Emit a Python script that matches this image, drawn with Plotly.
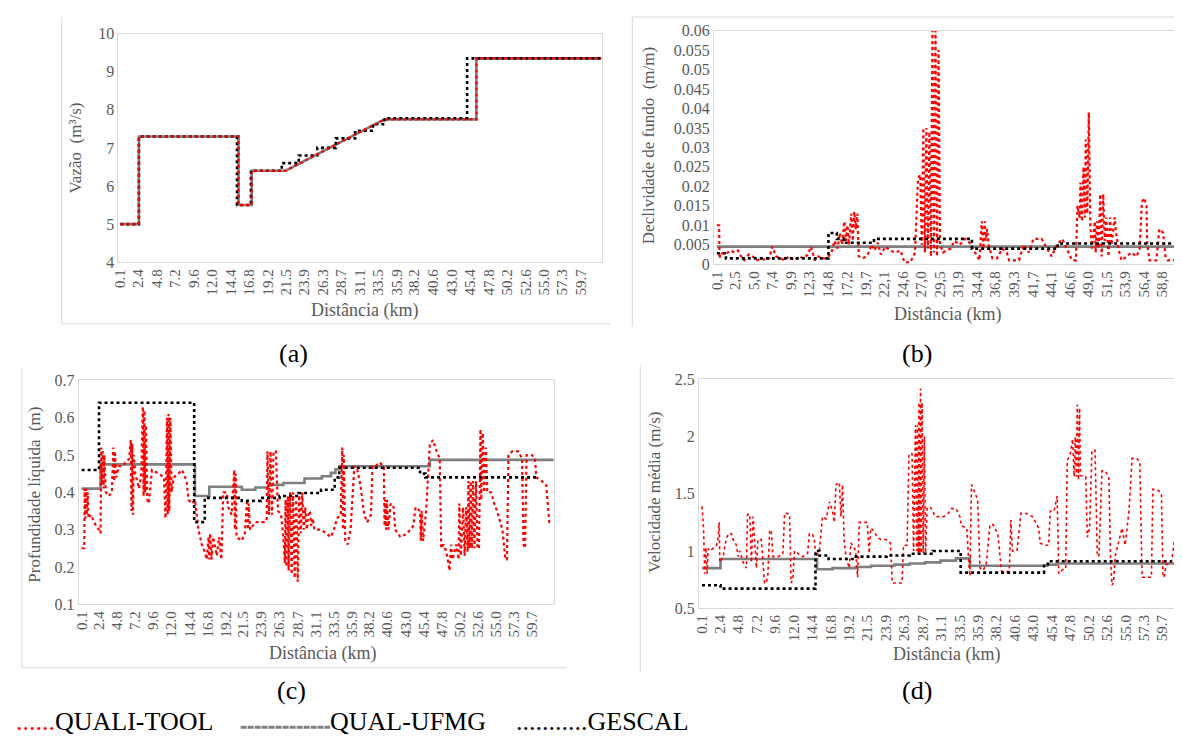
import plotly.graph_objects as go

W, H = 1182, 741

# ---------------- x tick labels ----------------
ticks_acd = [0.1, 2.4, 4.8, 7.2, 9.6, 12.0, 14.4, 16.8, 19.2, 21.5, 23.9, 26.3, 28.7,
             31.1, 33.5, 35.9, 38.2, 40.6, 43.0, 45.4, 47.8, 50.2, 52.6, 55.0, 57.3, 59.7]
ticks_b = [0.1, 2.5, 5.0, 7.4, 9.9, 12.3, 14.8, 17.2, 19.7, 22.1, 24.6, 27.0, 29.5,
           31.9, 34.4, 36.8, 39.3, 41.7, 44.1, 46.6, 49.0, 51.5, 53.9, 56.4, 58.8]

# ---------------- (a) Vazão (m3/s) ----------------
a_km = [0.1, 2.5, 2.5, 15.4, 15.4, 17.1, 17.1, 21.5, 34.3, 46.2, 46.2, 62.4]
a_vazao = [5.0, 5.0, 7.3, 7.3, 5.5, 5.5, 6.4, 6.4, 7.75, 7.75, 9.35, 9.35]
a_gescal_km = [0.1, 2.5, 15.2, 17.0, 21.0, 23.2, 25.6, 28.0, 30.5, 32.8, 34.3, 45.0, 62.4]
a_gescal = [5.0, 7.3, 5.5, 6.4, 6.6, 6.8, 7.0, 7.25, 7.45, 7.62, 7.78, 9.35, 9.35]

# ---------------- (b) Declividade de fundo (m/m) ----------------
b_quali_km = [0.1, 0.4, 0.45, 0.6, 1.2, 1.9, 2.4, 2.9, 3.3, 3.7, 4.3, 4.8, 5.4, 6.0, 6.5, 7.0,
              7.4, 7.9, 8.5, 9.0, 9.6, 10.3, 10.9, 11.5, 12.1, 12.5, 13.0, 13.5, 14.0, 14.6,
              15.2, 15.6, 16.0, 16.3, 16.6, 16.9, 17.1, 17.3, 17.5, 17.8, 18.0, 18.2, 18.4,
              18.6, 18.8, 19.3, 19.8, 20.1, 20.5, 20.9, 21.3, 21.7, 22.3, 22.9, 23.6, 24.3,
              24.8, 25.6, 26.2, 26.6, 26.9, 27.1, 27.3, 27.5, 27.7, 27.9, 28.1, 28.3, 28.5,
              28.7, 28.9, 29.1, 29.3, 29.5, 29.9, 30.3, 30.9, 31.4, 32.1, 32.8, 33.4, 34.1,
              34.7, 35.0, 35.2, 35.4, 35.5, 35.7, 35.9, 36.4, 37.0, 37.7, 38.3, 38.6, 39.9,
              40.5, 41.2, 41.8, 42.9, 43.6, 44.2, 44.9, 45.6, 46.2, 46.9, 47.4, 47.6, 47.9,
              48.0, 48.2, 48.4, 48.6, 48.7, 48.9, 49.1, 49.3, 49.5, 49.9, 50.0, 50.2, 50.4,
              50.6, 50.8, 51.0, 51.2, 51.4, 51.7, 51.9, 52.1, 52.5, 52.7, 53.0, 53.4, 54.1,
              54.7, 55.4, 55.8, 56.1, 56.4, 56.7, 56.8, 57.1, 58.0, 58.4, 58.9, 59.2, 59.5,
              60.4, 61.3, 61.9, 62.3]
b_quali = [0.010, 0.010, 0.0015, 0.003, 0.0025, 0.0035, 0.003, 0.0035, 0.002, 0.001, 0.0025,
           0.002, 0.001, 0.0015, 0.001, 0.0015, 0.0045, 0.002, 0.0015, 0.001, 0.002, 0.001,
           0.002, 0.0015, 0.0025, 0.0045, 0.001, 0.002, 0.0015, 0.0015,
           0.003, 0.006, 0.004, 0.008, 0.005, 0.011, 0.006, 0.010, 0.005, 0.013, 0.006, 0.0135,
           0.009, 0.013, 0.002, 0.0015, 0.002, 0.003, 0.005, 0.0035, 0.0055, 0.0025, 0.0045,
           0.0035, 0.003, 0.0035, 0.0005, 0.0005, 0.003, 0.022, 0.023, 0.005, 0.035, 0.003,
           0.035, 0.004, 0.034, 0.002, 0.060, 0.003, 0.060, 0.002, 0.055, 0.005, 0.003, 0.0035,
           0.004, 0.006, 0.005, 0.0065, 0.0055, 0.003, 0.001, 0.011, 0.004, 0.011, 0.006, 0.009,
           0.005, 0.0015, 0.0015, 0.004, 0.003, 0.001, 0.001, 0.005, 0.003, 0.0065, 0.0065,
           0.004, 0.002, 0.005, 0.0065, 0.004, 0.001, 0.001, 0.015, 0.012, 0.021, 0.011, 0.025,
           0.012, 0.032, 0.013, 0.039, 0.010, 0.004, 0.011, 0.003, 0.011, 0.004, 0.018, 0.002,
           0.018, 0.006, 0.012, 0.002, 0.012, 0.005, 0.012, 0.008, 0.004, 0.001, 0.002, 0.003,
           0.002, 0.004, 0.016, 0.017, 0.015, 0.005, 0.001, 0.001, 0.009, 0.008, 0.002, 0.001,
           0.001, 0.0015, 0.004, 0.004]
b_ufmg_km = [0.1, 62.3]
b_ufmg = [0.0045, 0.0045]
b_gescal_km = [0.1, 1.3, 14.8, 15.9, 16.8, 20.8, 33.7, 45.0, 62.3]
b_gescal = [0.0028, 0.0015, 0.008, 0.0065, 0.0055, 0.0065, 0.004, 0.0053, 0.0053]

# ---------------- (c) Profundidade líquida (m) ----------------
c_quali_km = [0.1, 0.45, 0.5, 0.6, 0.7, 0.8, 0.9, 1.0, 1.3, 1.7, 2.0, 2.4, 2.6, 2.7, 2.8, 2.9,
              3.0, 3.1, 3.3, 3.7, 4.1, 4.3, 4.4, 4.5, 4.7, 5.0, 5.5, 5.9, 6.4, 6.6, 6.7, 6.8,
              6.9, 7.0, 7.2, 7.7, 8.0, 8.2, 8.3, 8.4, 8.5, 8.6, 8.8, 9.0, 9.4, 10.3, 11.0, 11.2,
              11.4, 11.5, 11.6, 11.7, 11.85, 12.0, 12.3, 12.9, 13.4, 14.0, 14.25, 14.7, 15.1,
              15.56, 16.0, 16.4, 16.66, 16.9, 17.0, 17.1, 17.3, 17.5, 18.0, 18.3, 18.6, 18.85,
              19.3, 19.5, 19.95, 20.3, 20.4, 20.5, 20.6, 21.3, 21.7, 22.0, 22.1, 22.2, 22.4,
              23.1, 23.5, 24.4, 24.6, 24.7, 24.9, 25.1, 25.3, 25.5, 25.8, 26.1, 26.5, 26.8,
              27.0, 27.1, 27.2, 27.4, 27.5, 27.7, 27.9, 28.1, 28.3, 28.5, 28.7, 28.9, 29.1,
              29.3, 29.5, 29.7, 29.9, 30.1, 30.3, 30.5, 30.7, 30.9, 31.8, 32.4, 33.1, 33.5,
              33.9, 34.4, 34.6, 34.7, 34.8, 35.0, 35.3, 35.7, 36.2, 36.6, 37.0, 37.5, 37.9,
              38.4, 38.6, 39.0, 39.5, 40.1, 40.2, 40.3, 40.4, 40.5, 40.7, 41.0, 41.4, 41.6,
              42.3, 43.2, 44.0, 44.3, 44.9, 45.0, 45.1, 45.3, 45.7, 46.2, 46.6, 47.1, 47.5,
              47.7, 48.0, 48.4, 48.6, 48.8, 49.0, 49.2, 49.7, 50.0, 50.1, 50.3, 50.6, 50.8,
              51.0, 51.2, 51.3, 51.45, 51.6, 51.75, 51.9, 52.1, 52.3, 52.5, 52.7, 52.9, 53.0,
              53.2, 53.4, 53.6, 53.8, 54.3, 54.7, 55.1, 55.8, 56.2, 56.4, 56.6, 57.1, 57.9,
              58.4, 58.6, 58.8, 59.0, 59.2, 59.7, 60.1, 60.3, 61.0, 61.6, 62.0, 62.5]
c_quali = [0.25, 0.25, 0.41, 0.33, 0.41, 0.34, 0.40, 0.33, 0.34, 0.32, 0.31, 0.30, 0.29, 0.52,
           0.42, 0.51, 0.41, 0.50, 0.40, 0.39, 0.40, 0.52, 0.43, 0.51, 0.44, 0.47, 0.47, 0.48,
           0.49, 0.54, 0.35, 0.53, 0.34, 0.50, 0.45, 0.41, 0.45, 0.63, 0.39, 0.62, 0.40, 0.58,
           0.38, 0.37, 0.46, 0.45, 0.44, 0.33, 0.60, 0.34, 0.61, 0.35, 0.60, 0.40, 0.44, 0.45,
           0.46, 0.43, 0.38, 0.37, 0.38, 0.30, 0.26, 0.24, 0.22, 0.28, 0.22, 0.29, 0.22, 0.28,
           0.23, 0.28, 0.22, 0.40, 0.40, 0.36, 0.34, 0.46, 0.30, 0.45, 0.28, 0.27, 0.29, 0.38,
           0.30, 0.37, 0.30, 0.32, 0.32, 0.32, 0.33, 0.51, 0.34, 0.51, 0.34, 0.51, 0.51, 0.35,
           0.34, 0.28, 0.21, 0.38, 0.20, 0.39, 0.19, 0.40, 0.18, 0.40, 0.17, 0.38, 0.16, 0.40,
           0.29, 0.40, 0.30, 0.36, 0.30, 0.34, 0.35, 0.31, 0.33, 0.30, 0.30, 0.29, 0.28, 0.30,
           0.33, 0.34, 0.52, 0.30, 0.50, 0.27, 0.26, 0.30, 0.47, 0.46, 0.42, 0.34, 0.32, 0.34,
           0.47, 0.47, 0.48, 0.47, 0.31, 0.38, 0.30, 0.38, 0.30, 0.37, 0.36, 0.30, 0.28, 0.29,
           0.31, 0.36, 0.35, 0.27, 0.35, 0.27, 0.35, 0.53, 0.54, 0.51, 0.49, 0.25, 0.26, 0.24,
           0.21, 0.19, 0.26, 0.22, 0.26, 0.22, 0.37, 0.23, 0.36, 0.23, 0.36, 0.24, 0.43, 0.25,
           0.43, 0.25, 0.43, 0.25, 0.43, 0.25, 0.25, 0.57, 0.38, 0.56, 0.40, 0.52, 0.40, 0.40,
           0.37, 0.35, 0.30, 0.22, 0.22, 0.50, 0.51, 0.51, 0.49, 0.26, 0.25, 0.50, 0.50, 0.50,
           0.49, 0.44, 0.43, 0.42, 0.32, 0.32]
c_ufmg_km = [0.1, 2.6, 15.1, 17.0, 21.3, 23.1, 24.8, 26.8, 29.6, 31.9, 33.1, 33.7, 34.2, 46.2, 62.6]
c_ufmg = [0.41, 0.475, 0.39, 0.415, 0.407, 0.413, 0.42, 0.425, 0.437, 0.443, 0.452, 0.462,
          0.47, 0.487, 0.487]
c_gescal_km = [0.1, 2.4, 15.0, 16.4, 21.3, 23.8, 26.3, 28.8, 31.8, 33.6, 34.2, 44.9, 45.6, 60.4]
c_gescal = [0.46, 0.64, 0.32, 0.385, 0.377, 0.385, 0.39, 0.398, 0.407, 0.44, 0.466, 0.45,
            0.44, 0.44]

# ---------------- (d) Velocidade média (m/s) ----------------
d_quali_km = [0.1, 0.3, 0.45, 0.6, 0.75, 0.9, 1.13, 1.56, 1.98, 2.2, 2.33, 2.4, 2.85, 3.06,
              3.49, 3.92, 4.13, 4.56, 4.78, 4.99, 5.42, 5.85, 6.0, 6.28, 6.5, 6.71, 6.92, 7.14,
              7.35, 7.78, 8.0, 8.2, 8.43, 8.64, 8.86, 9.07, 9.29, 9.5, 9.93, 10.57, 10.8, 11.0,
              11.43, 11.64, 11.86, 12.07, 12.71, 13.14, 13.78, 14.0, 14.4, 14.64, 14.86, 15.3,
              15.7, 16.16, 16.4, 16.6, 17.0, 17.24, 17.45, 17.88, 18.1, 18.3, 18.5, 18.74,
              19.17, 19.38, 19.6, 20.0, 20.25, 20.46, 20.9, 21.5, 21.75, 21.96, 22.4, 22.8,
              23.25, 23.9, 24.3, 24.5, 24.75, 25.4, 26.0, 26.2, 26.66, 26.9, 27.3, 27.5, 27.75,
              27.9, 28.0, 28.1, 28.2, 28.3, 28.4, 28.5, 28.6, 28.75, 28.9, 29.05, 29.26, 29.7,
              29.9, 30.33, 30.76, 31.4, 32.0, 32.4, 33.0, 33.5, 33.7, 34.4, 34.6, 34.8, 35.0,
              35.4, 35.8, 36.1, 36.5, 36.9, 37.4, 37.8, 38.4, 38.9, 39.5, 39.9, 40.1, 40.3,
              40.9, 41.4, 42.0, 42.9, 43.3, 43.7, 43.9, 44.4, 45.0, 45.2, 45.7, 46.1, 46.3,
              47.0, 47.2, 47.4, 47.8, 48.1, 48.3, 48.45, 48.6, 48.7, 48.85, 49.0, 49.1, 49.8,
              50.0, 50.3, 50.6, 51.0, 51.3, 51.5, 51.9, 52.3, 52.8, 53.0, 53.2, 53.4, 53.6,
              54.1, 54.5, 54.9, 55.4, 55.8, 56.4, 56.8, 57.1, 57.7, 58.3, 58.5, 59.2, 59.6,
              59.8, 60.0, 60.2, 60.9, 61.5, 61.7]
d_quali = [1.39, 1.2, 0.80, 1.03, 0.80, 1.02, 1.0, 1.03, 1.05, 1.12, 1.25, 0.90, 0.95, 1.05,
           1.15, 1.15, 1.10, 1.05, 0.95, 1.0, 0.90, 0.85, 1.32, 1.32, 0.9, 1.30, 1.10, 0.85,
           1.10, 1.10, 0.90, 0.72, 0.72, 0.80, 1.18, 1.18, 0.95, 0.95, 0.95, 0.97, 1.33, 1.33,
           1.32, 0.72, 0.75, 1.0, 0.97, 0.95, 0.98, 1.15, 1.15, 1.1, 0.95, 1.0, 1.30, 1.28,
           1.35, 1.43, 1.35, 1.25, 1.58, 1.60, 1.3, 1.58, 1.10, 0.95, 0.85, 1.07, 1.05, 1.0,
           0.77, 1.25, 1.25, 1.25, 0.98, 1.20, 1.17, 1.12, 1.10, 1.10, 1.08, 1.07, 0.72, 0.72,
           0.72, 1.05, 1.05, 1.85, 1.85, 1.0, 2.1, 1.0, 2.1, 0.98, 2.3, 0.98, 2.42, 0.98, 2.3,
           0.98, 2.0, 0.98, 1.38, 1.38, 1.35, 1.30, 1.30, 1.30, 1.33, 1.37, 1.37, 1.30, 1.22,
           1.20, 0.95, 0.78, 1.58, 1.52, 1.45, 0.85, 0.83, 0.88, 1.23, 1.23, 1.15, 0.82, 0.82,
           0.82, 1.27, 1.0, 1.0, 1.33, 1.33, 1.30, 1.25, 1.20, 1.07, 1.05, 1.05, 1.35, 1.35,
           1.48, 0.80, 0.85, 0.85, 1.79, 1.85, 1.98, 1.65, 2.0, 1.65, 2.28, 1.62, 2.25, 1.66,
           1.65, 1.12, 1.2, 1.88, 1.88, 0.97, 0.95, 1.70, 1.70, 1.65, 0.95, 0.70, 0.73, 0.95,
           1.08, 1.2, 1.05, 1.35, 1.81, 1.81, 1.78, 0.77, 0.77, 0.77, 1.54, 1.53, 1.50, 0.77,
           0.78, 0.88, 0.90, 1.2, 1.2]
d_ufmg_km = [0.1, 2.5, 15.0, 17.0, 20.0, 22.0, 25.0, 27.0, 29.0, 31.0, 33.0, 34.8, 44.8, 46.0, 62.4]
d_ufmg = [0.85, 0.93, 0.84, 0.85, 0.86, 0.87, 0.88, 0.89, 0.90, 0.915, 0.935, 0.87, 0.88,
          0.89, 0.89]
d_gescal_km = [0.1, 2.5, 14.8, 15.3, 16.5, 19.6, 24.0, 27.0, 30.0, 33.6, 44.4, 44.9, 60.9]
d_gescal = [0.70, 0.67, 1.0, 0.96, 0.93, 0.95, 0.96, 0.975, 1.0, 0.81, 0.87, 0.91, 0.91]

# ---------------- styling ----------------
SERIF = "Liberation Serif"
GRAY_TXT = "#595959"
RED = "#ff0000"
UFMG = "#7f7f7f"


def px_x(p):
    return p / W


def px_y(p):
    return 1 - p / H


fig = go.Figure()

panels = [
    dict(ax="", traces=[(a_km, a_vazao, "ufmg_lin"), (a_gescal_km, a_gescal, "gescal"),
                        (a_km, a_vazao, "quali")],
         xd=(105, 591), yd=(18, 252), xr=[-0.16, 62.4], yr=[4, 10], dt=1, ticks=ticks_acd,
         comma=False, qw=2.2),
    dict(ax="2", traces=[(b_ufmg_km, b_ufmg, "ufmg"), (b_quali_km, b_quali, "quali"),
                         (b_gescal_km, b_gescal, "gescal")],
         xd=(704, 1182), yd=(15, 254), xr=[-0.3, 62.3], yr=[0, 0.06], dt=0.005, ticks=ticks_b,
         comma=True, qw=2.2),
    dict(ax="3", traces=[(c_ufmg_km, c_ufmg, "ufmg"), (c_quali_km, c_quali, "quali"),
                         (c_gescal_km, c_gescal, "gescal")],
         xd=(65, 543), yd=(373, 602), xr=[-0.3, 62.6], yr=[0.1, 0.7], dt=0.1, ticks=ticks_acd,
         comma=False, qw=2.2),
    dict(ax="4", traces=[(d_ufmg_km, d_ufmg, "ufmg"), (d_quali_km, d_quali, "quali"),
                         (d_gescal_km, d_gescal, "gescal")],
         xd=(689, 1176), yd=(372, 606), xr=[-0.3, 62.4], yr=[0.5, 2.5], dt=0.5, ticks=ticks_acd,
         comma=False, qw=1.6),
]

layout_axes = {}
for p in panels:
    xa, ya = "x" + p["ax"], "y" + p["ax"]
    for km, vals, kind in p["traces"]:
        if kind == "quali":
            line = dict(color=RED, width=p["qw"], dash="dot")
            shape = "linear"
        elif kind == "gescal":
            line = dict(color="#000000", width=2.6, dash="dot")
            shape = "hv"
        elif kind == "ufmg_lin":
            line = dict(color=UFMG, width=2.6)
            shape = "linear"
        else:
            line = dict(color=UFMG, width=2.6)
            shape = "hv"
        fig.add_trace(go.Scatter(x=km, y=vals, mode="lines", line=line, line_shape=shape,
                                 xaxis=xa, yaxis=ya, showlegend=False, hoverinfo="skip"))
    if p["comma"]:
        ttext = [f"{v:.1f}".replace(".", ",") for v in p["ticks"]]
    else:
        ttext = [f"{v:.1f}" for v in p["ticks"]]
    layout_axes["xaxis" + p["ax"]] = dict(
        domain=[px_x(p["xd"][0]), px_x(p["xd"][1])], anchor=ya, range=p["xr"],
        tickmode="array", tickvals=p["ticks"], ticktext=ttext, tickangle=-90,
        showgrid=False, zeroline=False, showline=True, linecolor="#d9d9d9", linewidth=1,
        mirror=True, ticks="", tickfont=dict(family=SERIF, size=15, color=GRAY_TXT))
    layout_axes["yaxis" + p["ax"]] = dict(
        domain=[px_y(p["yd"][1]), px_y(p["yd"][0])], anchor=xa, range=p["yr"], dtick=p["dt"],
        tick0=p["yr"][0], showgrid=False, zeroline=False, showline=True, linecolor="#d9d9d9",
        linewidth=1, mirror=True, ticks="", tickfont=dict(family=SERIF, size=16, color=GRAY_TXT))

annotations = []


def ann(text, x, y, size, color=GRAY_TXT, angle=0, xanchor="center"):
    annotations.append(dict(text=text, x=px_x(x), y=px_y(y), xref="paper", yref="paper",
                            showarrow=False, textangle=angle, xanchor=xanchor, yanchor="middle",
                            font=dict(family=SERIF, size=size, color=color)))


# axis titles
ann("Vazão  (m³/s)", 62, 135, 17, angle=-90)
ann("Declividade de fundo  (m/m)", 639, 133, 17, angle=-90)
ann("Profundidade líquida  (m)", 21, 490, 17, angle=-90)
ann("Velocidade média (m/s)", 645, 488, 17, angle=-90)
ann("Distância (km)", 353, 301, 18)
ann("Distância (km)", 939, 306, 18)
ann("Distância (km)", 310, 652, 18)
ann("Distância (km)", 938, 654, 18)

# panel letters
ann("(a)", 281, 345, 26, color="#000000")
ann("(b)", 908, 345, 26, color="#000000")
ann("(c)", 279, 690, 26, color="#000000")
ann("(d)", 908, 690, 26, color="#000000")

# legend
ann('<span style="color:#ff0000">......</span>QUALI-TOOL', 0, 722, 26, color="#000000",
    xanchor="left")
ann("QUAL-UFMG", 316, 722, 26, color="#000000", xanchor="left")
ann("...........GESCAL", 503, 722, 26, color="#000000", xanchor="left")

shapes = []


def hline(x0, x1, y, color="#d9d9d9", width=1, dash=None):
    s = dict(type="line", xref="paper", yref="paper", x0=px_x(x0), x1=px_x(x1),
             y0=px_y(y), y1=px_y(y), line=dict(color=color, width=width))
    if dash:
        s["line"]["dash"] = dash
    shapes.append(s)


def vline(x, y0, y1, color="#d9d9d9", width=1):
    shapes.append(dict(type="line", xref="paper", yref="paper", x0=px_x(x), x1=px_x(x),
                       y0=px_y(y0), y1=px_y(y1), line=dict(color=color, width=width)))


# chart-area frames
vline(48, 1, 315)
hline(48, 600, 315)
hline(622, 1182, 1)
vline(622, 1, 318)
vline(8, 360, 667)
hline(8, 556, 667)
vline(630, 357, 672)
# legend sample line for QUAL-UFMG
hline(228, 318, 728, color="#808080", width=3, dash="6px,1px")

fig.update_layout(width=W, height=H, autosize=False, margin=dict(l=0, r=0, t=0, b=0),
                  paper_bgcolor="white", plot_bgcolor="white", showlegend=False,
                  annotations=annotations, shapes=shapes, **layout_axes)

fig.write_html("out.html")
